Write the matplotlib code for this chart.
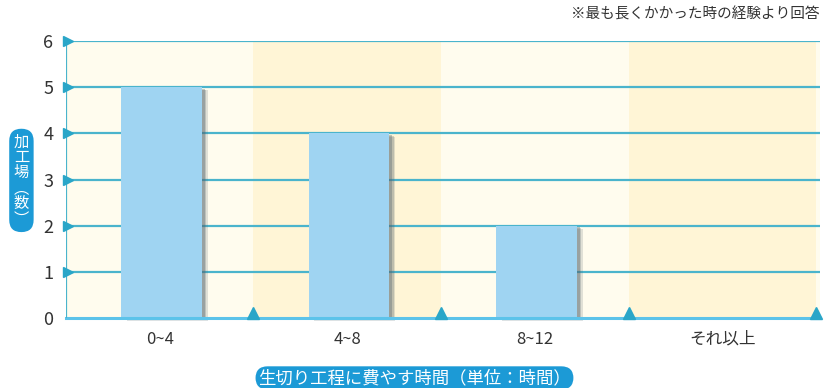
import matplotlib
matplotlib.use('Agg')
import matplotlib.pyplot as plt
import numpy as np

plt.rcParams['font.family'] = ['Noto Sans CJK JP', 'DejaVu Sans']

categories = ['0~4', '4~8', '8~12', 'それ以上']
counts = [5, 4, 2, 0]
yticks = [0, 1, 2, 3, 4, 5, 6]
ylabel_text = '加\n工\n場\n︵\n数\n︶'
xlabel_text = '生切り工程に費やす時間（単位：時間）'
note_text = '※最も長くかかった時の経験より回答'

fig = plt.figure(figsize=(8.24, 3.88), dpi=100)
ax = fig.add_axes([0.080, 0.180, 0.915, 0.714])

x = np.arange(len(categories))
ax.set_xlim(-0.5, 3.52)
ax.set_ylim(0, 6)

# alternating background bands
band_colors = ['#fffcee', '#fff5d6']
for i in range(len(categories)):
    ax.axvspan(i - 0.5, i + 0.5, color=band_colors[i % 2], lw=0, zorder=0)
ax.axvspan(3.5, 3.52, color=band_colors[0], lw=0, zorder=0)

# grid lines
for t in yticks[1:]:
    ax.axhline(t, color='#4ab4cc', lw=1.6, zorder=1)

# bars with soft shadow
for off, a in [(0.03, 0.18), (0.022, 0.25), (0.014, 0.35)]:
    shadow = ax.bar(x + 0.01 + off, counts, width=0.43, bottom=-off * 2.2,
                    color='#56666e', alpha=a, zorder=2, lw=0)
    for s in shadow:
        s.set_clip_on(False)
ax.bar(x + 0.01, counts, width=0.43, color='#9fd4f2', zorder=3, lw=0)

# axes lines
ax.axhline(0, color='#5cc3ea', lw=2.2, zorder=4, clip_on=False)
ax.axvline(-0.5, color='#4ab4cc', lw=1.6, zorder=4)
for sp in ax.spines.values():
    sp.set_visible(False)

# left triangle markers
ax.plot([-0.49] * (len(yticks) - 1), yticks[1:], marker='>', ls='none',
        color='#2aa6c8', ms=6.5, zorder=5, clip_on=False)
# bottom triangle markers at group boundaries
ax.plot(x + 0.5, [0.11] * len(x), marker='^', ls='none',
        color='#2aa6c8', ms=8, zorder=5, clip_on=False)

ax.set_yticks(yticks)
ax.set_yticklabels([str(t) for t in yticks], fontsize=13, color='#333333')
ax.set_xticks(x)
ax.set_xticklabels(categories, fontsize=12, color='#333333')
ax.tick_params(axis='both', length=0)
ax.tick_params(axis='y', pad=9)
ax.tick_params(axis='x', pad=9)

fig.text(0.026, 0.535, ylabel_text, color='white', fontsize=11, ha='center',
         va='center', linespacing=0.88,
         bbox=dict(boxstyle='round,pad=0.3,rounding_size=0.8', fc='#1c9ad6', ec='none'))
fig.text(0.503, 0.026, xlabel_text, color='white', fontsize=12.5, ha='center',
         va='center',
         bbox=dict(boxstyle='round,pad=0.15,rounding_size=0.7', fc='#1c9ad6', ec='none'))
fig.text(0.994, 0.963, note_text, color='#333333', fontsize=10.5, ha='right', va='center')

fig.savefig('out.png', dpi=100)
